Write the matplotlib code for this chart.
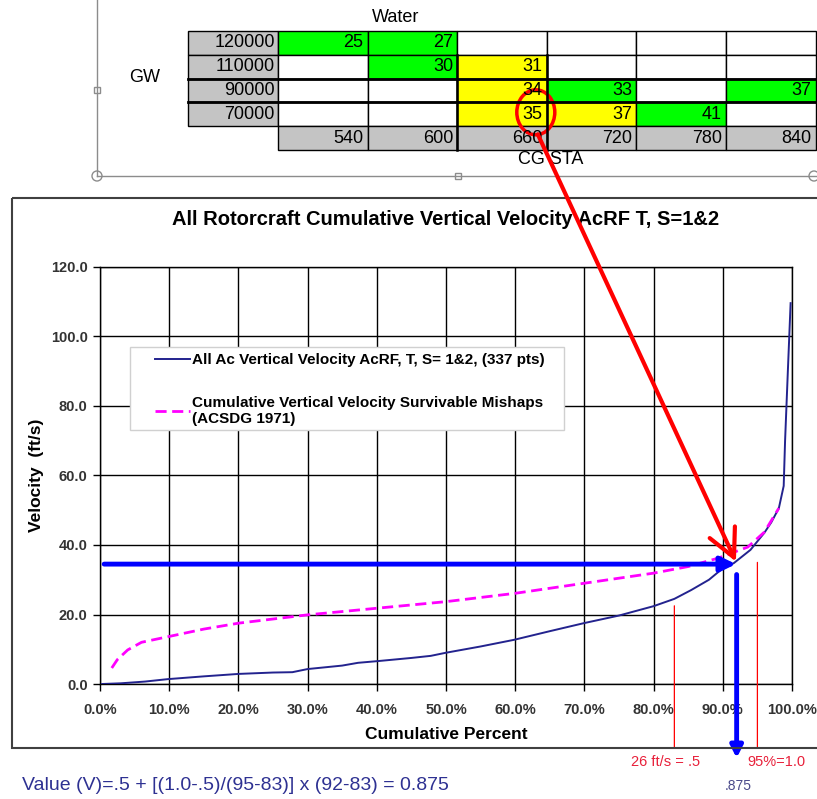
import numpy as np
import matplotlib
matplotlib.use('Agg')
import matplotlib.pyplot as plt
import matplotlib.transforms as mtransforms
from matplotlib.patches import Rectangle, Ellipse, Circle

plt.rcParams['font.family'] = ['Liberation Sans', 'DejaVu Sans']

# cumulative vertical velocity, all aircraft (percent, ft/s)
pct_all = [0.3, 3, 6.5, 9.8, 15, 20, 25, 27.8, 30, 35, 37.3, 40.2, 45, 47.8,
           50, 55, 59.8, 65, 69.9, 75, 80, 83, 85.4, 88, 89.7, 91.6, 94, 96,
           97, 98.1, 98.8, 99.0, 99.4, 99.8]
vel_all = [0, 0.2, 0.7, 1.4, 2.2, 2.9, 3.3, 3.4, 4.3, 5.3, 6.1, 6.6, 7.5, 8.1,
           9.0, 10.8, 12.7, 15.2, 17.5, 19.7, 22.4, 24.5, 27, 30, 32.8, 34.8,
           38.6, 43.5, 46.5, 50.6, 57, 70, 90, 109.6]

# ACSDG 1971 survivable mishaps curve
pct_acsdg = [1.7, 2.5, 4, 6, 9.8, 15, 20, 30, 40, 50, 60, 70, 80, 85, 89.3,
             93.6, 96, 98.1]
vel_acsdg = [4.6, 7, 9.8, 12, 13.6, 15.8, 17.5, 19.9, 21.8, 23.7, 26.1, 29,
             31.9, 33.8, 36.2, 39.4, 43.7, 50.6]

# water impact table: GW rows x CG STA columns
gw_rows = ['120000', '110000', '90000', '70000']
cg_cols = ['540', '600', '660', '720', '780', '840']
water_vals = [
    [25, 27, None, None, None, None],
    [None, 30, 31, None, None, None],
    [None, None, 34, 33, None, 37],
    [None, None, 35, 37, 41, None],
]
water_fill = [
    ['g', 'g', '', '', '', ''],
    ['', 'g', 'y', '', '', ''],
    ['', '', 'y', 'g', '', 'g'],
    ['', '', 'y', 'y', 'g', ''],
]
pick_row, pick_col = 3, 2   # the circled cell (35 ft/s)

pick_pct = 92
pick_vel = 34.5
lo_pct, hi_pct = 83, 95
lo_top, hi_top = 22.5, 35.0

W, H = 817, 799
fig = plt.figure(figsize=(W / 100, H / 100), dpi=100)

# pixel overlay for the frame, table and notes
ov = fig.add_axes([0, 0, 1, 1])
ov.set_xlim(0, W)
ov.set_ylim(H, 0)
ov.axis('off')
ov.patch.set_alpha(0)
ov.set_zorder(2)

ax = fig.add_axes([100 / W, 1 - 684 / H, 692 / W, 417 / H])
ax.set_zorder(1)

# ---- table ----
fills = {'g': '#00ff00', 'y': '#ffff00', '': 'white'}
gray = '#c4c4c4'
tfs = 13
xl0, x0, col_w = 188, 278, 89.6
y0, row_h = 31, 23.8
for i, row in enumerate(gw_rows):
    y = y0 + i * row_h
    ov.add_patch(Rectangle((xl0, y), x0 - xl0, row_h, fc=gray, ec='black', lw=1))
    ov.text(x0 - 3, y + row_h / 2, row, ha='right', va='center', fontsize=tfs)
    for j in range(len(cg_cols)):
        ov.add_patch(Rectangle((x0 + j * col_w, y), col_w, row_h,
                               fc=fills[water_fill[i][j]], ec='black', lw=1))
        v = water_vals[i][j]
        if v is not None:
            ov.text(x0 + (j + 1) * col_w - 4, y + row_h / 2, str(v),
                    ha='right', va='center', fontsize=tfs)
yb = y0 + len(gw_rows) * row_h
for j, c in enumerate(cg_cols):
    ov.add_patch(Rectangle((x0 + j * col_w, yb), col_w, row_h, fc=gray, ec='black', lw=1))
    ov.text(x0 + (j + 1) * col_w - 4, yb + row_h / 2, c, ha='right', va='center',
            fontsize=tfs)
for k in (2, 3):
    ov.plot([xl0, W], [y0 + k * row_h] * 2, color='black', lw=2)
for k in (2, 3):
    ov.plot([x0 + k * col_w] * 2, [y0 + row_h, yb + row_h], color='black', lw=1.8)

ov.text(396, 17, 'Water', ha='center', va='center', fontsize=tfs)
ov.text(145, 77, 'GW', ha='center', va='center', fontsize=tfs)
ov.text(551, 160, 'CG STA', ha='center', va='center', fontsize=tfs)

cx = x0 + (pick_col + 1) * col_w - 11
cy = y0 + pick_row * row_h + row_h / 2 - 2
ov.add_patch(Ellipse((cx, cy), 38, 45, fill=False, ec='red', lw=2.5))

# selection handles of the embedded table
hc = '#8c8c8c'
ov.plot([97, 97], [0, 176], color=hc, lw=1)
ov.plot([97, W], [176, 176], color=hc, lw=1)
ov.add_patch(Rectangle((94, 87), 6, 6, fc='white', ec=hc, lw=1))
ov.add_patch(Rectangle((455, 173), 6, 6, fc='white', ec=hc, lw=1))
ov.add_patch(Circle((97, 176), 5, fc='white', ec=hc, lw=1))
ov.add_patch(Circle((814, 176), 5, fc='white', ec=hc, lw=1))

# chart frame
ov.add_patch(Rectangle((12, 198), 830, 550, fill=False, ec='#404040', lw=1.5))

# ---- chart ----
ax.plot(pct_all, vel_all, color='#23238e', lw=1.4, zorder=3,
        label='All Ac Vertical Velocity AcRF, T, S= 1&2, (337 pts)')
ax.plot(pct_acsdg, vel_acsdg, color='#ff00ff', lw=2, dashes=(4, 2), zorder=3,
        label='Cumulative Vertical Velocity Survivable Mishaps\n(ACSDG 1971)')

ax.set_xlim(0, 100)
ax.set_ylim(0, 120)
xt = np.arange(0, 101, 10)
yt = np.arange(0, 121, 20)
ax.set_xticks(xt, [f'{v:.1f}%' for v in xt], fontweight='bold', color='#333333', fontsize=10.5)
ax.set_yticks(yt, [f'{v:.1f}' for v in yt], fontweight='bold', color='#333333', fontsize=10.5)
ax.tick_params(axis='x', direction='out', length=5, width=1, pad=9)
ax.tick_params(axis='y', direction='out', length=5, width=1, pad=4)
ax.grid(True, color='black', lw=1)
ax.set_axisbelow(True)
for s in ax.spines.values():
    s.set_color('black')
    s.set_linewidth(1)

ax.set_title('All Rotorcraft Cumulative Vertical Velocity AcRF T, S=1&2',
             fontsize=14.5, fontweight='bold', pad=30)
ax.set_xlabel('Cumulative Percent', fontsize=12.5, fontweight='bold', labelpad=7)
ax.set_ylabel('Velocity  (ft/s)', fontsize=12.5, fontweight='bold', labelpad=5)

# legend: white box over the grid, entries set a little inside it
ax.add_patch(Rectangle((0.043, 0.609), 0.627, 0.199, transform=ax.transAxes,
                       fc='white', ec='#d0d0d0', lw=1, zorder=2.5))
ax.legend(loc='upper left', bbox_to_anchor=(0.07, 0.808),
          prop={'weight': 'bold', 'size': 11}, frameon=False,
          handlelength=2.3, labelspacing=1.9, borderpad=0.4,
          handletextpad=0.15, borderaxespad=0)

blend = mtransforms.blended_transform_factory(ax.transData, ov.transData)

# reading arrows
ax.annotate('', xy=(pick_pct - 0.1, pick_vel), xytext=(0.6, pick_vel),
            arrowprops=dict(arrowstyle='-|>,head_length=0.45,head_width=0.22',
                            color='#0000ff', lw=3.5, shrinkA=0, shrinkB=0,
                            mutation_scale=20), zorder=4)
ax.annotate('', xy=(pick_pct, 758), xycoords=blend, xytext=(pick_pct, 31.5),
            textcoords='data', annotation_clip=False,
            arrowprops=dict(arrowstyle='-|>,head_length=0.35,head_width=0.18',
                            color='#0000ff', lw=3.5, shrinkA=0, shrinkB=0,
                            mutation_scale=20))
for p, top in ((lo_pct, lo_top), (hi_pct, hi_top)):
    ax.annotate('', xy=(p, 748), xycoords=blend, xytext=(p, top), textcoords='data',
                annotation_clip=False,
                arrowprops=dict(arrowstyle='-', color='red', lw=0.9,
                                shrinkA=0, shrinkB=0))

ov.annotate('', xy=(pick_pct - 0.1, 35.2), xycoords=ax.transData,
            xytext=(cx + 2, cy + 22), textcoords='data',
            arrowprops=dict(arrowstyle='->,head_length=1.0,head_width=0.5',
                            color='red', lw=3, shrinkA=0, shrinkB=0,
                            mutation_scale=20))

ov.text(81.8, 762, '26 ft/s = .5', transform=blend, ha='center', va='center',
        color='#e8203a', fontsize=10.5)
ov.text(97.8, 762, '95%=1.0', transform=blend, ha='center', va='center',
        color='#e8203a', fontsize=10.5)
ov.text(92.2, 786, '.875', transform=blend, ha='center', va='center',
        color='#4a4a8a', fontsize=10)
ov.text(22, 786, 'Value (V)=.5 + [(1.0-.5)/(95-83)] x (92-83) = 0.875', ha='left',
        va='center', color='#2e3192', fontsize=14)

fig.savefig('out.png', dpi=100)
